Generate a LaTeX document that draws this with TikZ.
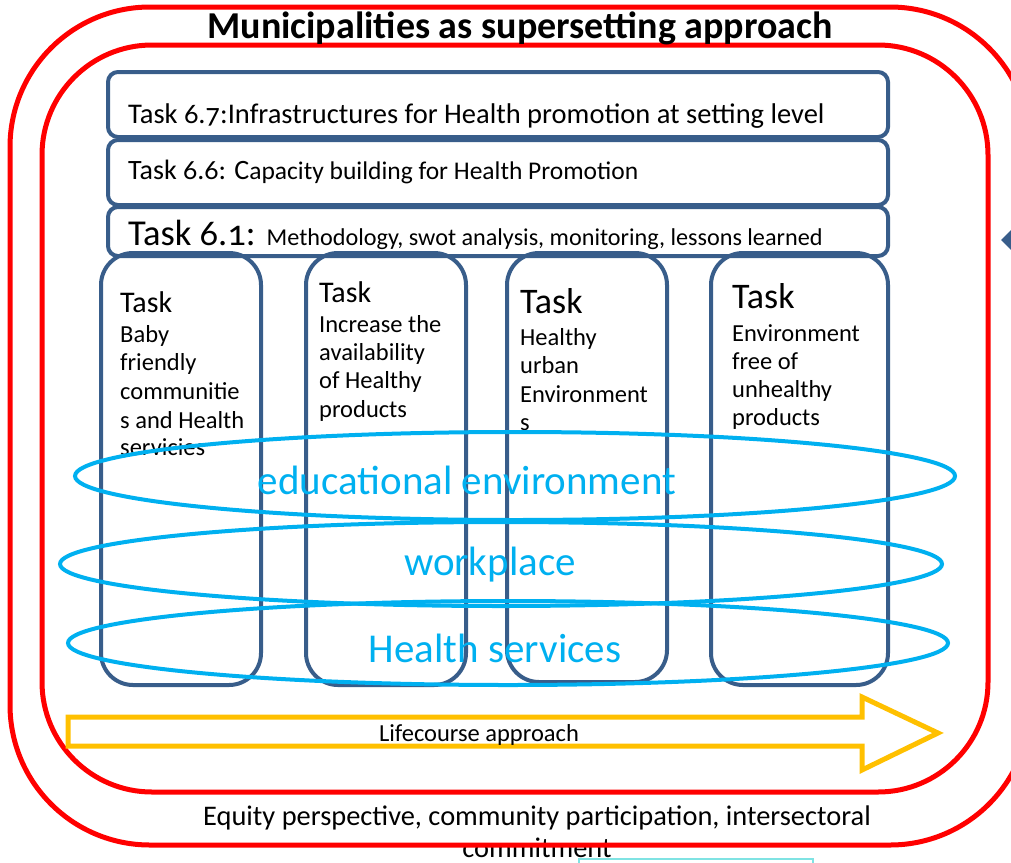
\documentclass[tikz,border=0pt]{standalone}
\usepackage{fontspec}
\setmainfont{Carlito}[Numbers=OldStyle]
\usetikzlibrary{shapes.geometric}
\definecolor{taskblue}{HTML}{385D8A}
\definecolor{settingblue}{HTML}{00B0F0}
\definecolor{framered}{HTML}{FF0000}
\definecolor{lifegold}{HTML}{FFC000}
\definecolor{notecyan}{HTML}{7FE3E3}
\newcommand\setfs[1]{\fontsize{#1}{#1}\selectfont}
\tikzset{
  redframe/.style={draw=framered, line width=5pt},
  taskrow/.style={draw=taskblue, line width=4pt, rounded corners=10pt, inner sep=0pt, outer sep=0pt},
  taskcol/.style={draw=taskblue, line width=4pt, rounded corners=32pt, inner sep=0pt, outer sep=0pt},
  setting/.style={ellipse, draw=settingblue, line width=4pt, inner sep=0pt},
  settinglabel/.style={anchor=base, text=settingblue, font=\setfs{41}, inner sep=0pt},
  lefttext/.style={anchor=base west, inner sep=0pt},
  colhead/.style={lefttext, font=\setfs{30}},
  colbig/.style={lefttext, font=\setfs{36}},
  colline/.style={lefttext, font=\setfs{24.5}},
}
\begin{document}
\begin{tikzpicture}[x=1pt, y=-1pt]
\useasboundingbox (0,0) rectangle (1011,862);
\clip (0,0) rectangle (1011,862);

% closing statement, partly under the outer frame
\node[anchor=base, inner sep=0pt, font=\setfs{28.4}] (equity) at (537,825) {Equity perspective, community participation, intersectoral};
\node[anchor=base, inner sep=0pt, font=\setfs{28.4}] (commit) at (537,857) {commitment};

% nested settings frames
\draw[redframe, rounded corners=140pt] (10,7) rectangle (1030,845);
\draw[redframe, rounded corners=110pt] (42,45) rectangle (988,792);
\node[anchor=base, inner sep=0pt, font=\bfseries\setfs{38}] (title) at (520,38) {Municipalities as supersetting approach};

% small marker at the right edge
\fill[taskblue] (1001,240) -- (1016,225) -- (1016,255) -- cycle;

% cross-cutting task rows
\node[taskrow, minimum width=780pt, minimum height=65pt] (r67) at (498,104.5) {};
\node[taskrow, minimum width=780pt, minimum height=65pt] (r66) at (498,172.5) {};
\node[taskrow, minimum width=780pt, minimum height=49pt] (r61) at (498,231.5) {};
\node[lefttext, font=\setfs{28.5}] (t67) at (128,123) {Task 6.7:Infrastructures for Health promotion at setting level};
\node[lefttext, font=\setfs{28}] (t66) at (128,179) {Task 6.6: C{\setfs{25.5}apacity building for Health Promotion}};
\node[lefttext, font=\setfs{36.5}] (t61) at (128,245) {Task 6.1: {\setfs{24.2}Methodology, swot analysis, monitoring, lessons learned}};

% thematic task columns
\node[taskcol, minimum width=160pt, minimum height=432pt] (c1) at (181,469) {};
\node[taskcol, minimum width=160pt, minimum height=432pt] (c2) at (386,469) {};
\node[taskcol, minimum width=160pt, minimum height=429pt] (c3) at (587,467.5) {};
\node[taskcol, minimum width=177pt, minimum height=432pt] (c4) at (799.5,469) {};

\node[colhead] (c1h) at (120,312) {Task};
\node[colline] (c1a) at (120,342) {Baby};
\node[colline] (c1b) at (120,370) {friendly};
\node[colline] (c1c) at (120,399) {communitie};
\node[colline] (c1d) at (120,428) {s and Health};
\node[colline] (c1e) at (120,455) {servicies};

\node[colhead] (c2h) at (319,302) {Task};
\node[colline] (c2a) at (319,332) {Increase the};
\node[colline] (c2b) at (319,360) {availability};
\node[colline] (c2c) at (319,388) {of Healthy};
\node[colline] (c2d) at (319,417) {products};

\node[colbig] (c3h) at (520,313) {Task};
\node[colline] (c3a) at (520,345) {Healthy};
\node[colline] (c3b) at (520,373) {urban};
\node[colline] (c3c) at (520,402) {Environment};
\node[colline] (c3d) at (520,430) {s};

\node[colbig] (c4h) at (732,308) {Task};
\node[colline] (c4a) at (732,341) {Environment};
\node[colline] (c4b) at (732,369) {free of};
\node[colline] (c4c) at (732,397) {unhealthy};
\node[colline] (c4d) at (732,425) {products};

% settings rings
\node[setting, minimum width=880pt, minimum height=88pt] (edu) at (515,476) {};
\node[setting, minimum width=882pt, minimum height=84pt] (work) at (501,564) {};
\node[setting, minimum width=880pt, minimum height=84pt] (hs) at (508,643) {};
\node[settinglabel] (edul) at (467,494) {educational environment};
\node[settinglabel] (workl) at (490,575) {workplace};
\node[settinglabel] (hsl) at (495,662) {Health services};

% lifecourse arrow
\draw[draw=lifegold, line width=5pt, line join=miter]
  (68,717) -- (862,717) -- (862,697) -- (938,733) -- (862,770) -- (862,746) -- (68,746) -- cycle;
\node[anchor=base, inner sep=0pt, font=\setfs{24.5}] (life) at (479,741) {Lifecourse approach};

% box edge at the bottom
\draw[notecyan, line width=1.5pt] (579,870) -- (579,859) -- (813,859) -- (813,870);
\end{tikzpicture}
\end{document}
